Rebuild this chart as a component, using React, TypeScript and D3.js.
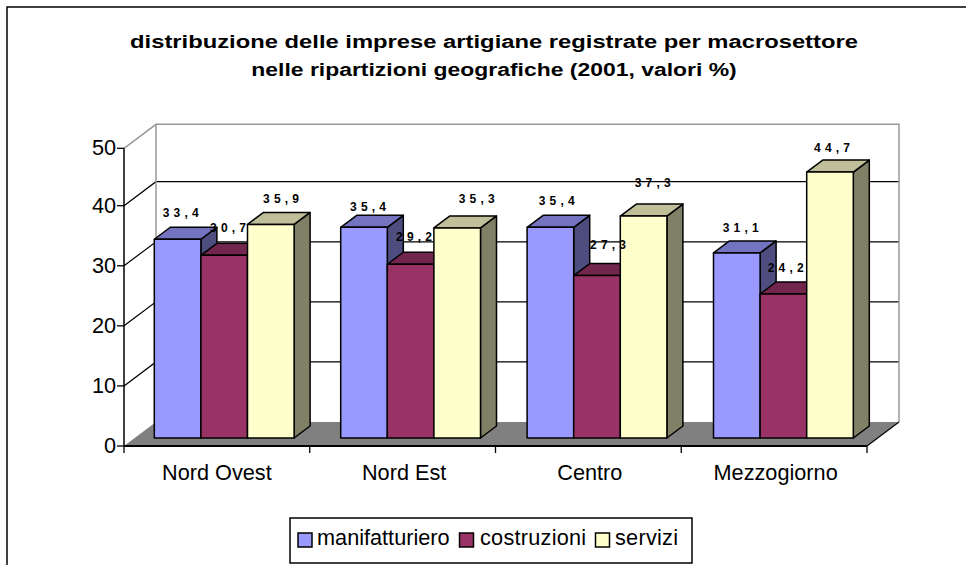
import React from 'react';
import * as d3 from 'd3';

const categories = ['Nord Ovest', 'Nord Est', 'Centro', 'Mezzogiorno'];
const seriesNames = ['manifatturiero', 'costruzioni', 'servizi'];
const manifatturiero = [33.4, 35.4, 35.4, 31.1];
const costruzioni = [30.7, 29.2, 27.3, 24.2];
const servizi = [35.9, 35.3, 37.3, 44.7];
const seriesValues = [manifatturiero, costruzioni, servizi];
const yTicks = [0, 10, 20, 30, 40, 50];
const titleLines = [
  'distribuzione delle imprese artigiane registrate per macrosettore',
  'nelle ripartizioni geografiche (2001, valori %)',
];
const titleStretch = [1.285, 1.24];

const frontColors = ['#9999FF', '#993366', '#FFFFCC'];
const topColors = ['#7373BF', '#73264D', '#BFBF99'];
const sideColors = ['#4D4D80', '#4D1A33', '#808066'];

// Hand-placed data label offsets [dx, dy] per series, per category
const labelNudges = [
  [[5.2, -22.3], [6.1, -16.4], [8.4, -22.4], [6, -21]],
  [[5.9, -23.3], [5.5, -23.3], [13.1, -26.6], [4.4, -22]],
  [[12.3, -21.4], [21.6, -25], [11.2, -29], [4.1, -20]],
];

const W = 966, H = 565;
const depthX = 32, depthY = 24;
const barDX = 16, barDY = 12;
const axisX0 = 124, axisX1 = 867, axisY0 = 446, axisY40 = 205.7, axisY1 = 148.3;
const barBase = 438;
const font = '"Liberation Sans", Arial, sans-serif';

const y = d3.scaleLinear().domain([0, 40, 50]).range([axisY0, axisY40, axisY1]);
const yBar = d3.scaleLinear().domain([0, 50]).range([barBase, barBase - 297.5]);
const xAxisScale = d3.scaleBand<string>().domain(categories).range([axisX0, axisX1]);
const groups = d3.scaleBand<string>().domain(categories).range([131, 876.6]).paddingInner(0.25).paddingOuter(0.125);
const inner = d3.scaleBand<string>().domain(seriesNames).range([0, groups.bandwidth()]);

const pts = (p: number[][]) => p.map((q) => q.join(',')).join(' ');

export default function App() {
  const bw = inner.bandwidth();
  const floorBack = axisY0 - depthY;
  const wallTop = axisY1 - depthY;
  return (
    <svg width={W} height={H} style={{ position: 'fixed', left: 0, top: 0, background: '#fff' }}>
      <path d={`M${W},7 L7,7 L7,${H}`} fill="none" stroke="#000" strokeWidth={1.5} />
      {titleLines.map((t, i) => (
        <text key={t} transform={`translate(494,${47.5 + i * 28.5}) scale(${titleStretch[i]},1)`} textAnchor="middle" fontFamily={font} fontWeight="bold" fontSize={18.5} fill="#000">{t}</text>
      ))}

      {/* walls */}
      {yTicks.slice(1, -1).map((t) => (
        <polyline key={t} points={pts([[axisX0, y(t)], [axisX0 + depthX, y(t) - depthY], [axisX1 + depthX, y(t) - depthY]])} fill="none" stroke="#000" strokeWidth={1.2} />
      ))}
      <polyline points={pts([[axisX0, axisY1], [axisX0 + depthX, wallTop], [axisX1 + depthX, wallTop], [axisX1 + depthX, floorBack]])} fill="none" stroke="#999" strokeWidth={1.5} />
      <line x1={axisX0 + depthX} x2={axisX0 + depthX} y1={wallTop} y2={floorBack} stroke="#999" strokeWidth={1.5} />

      {/* floor */}
      <polygon points={pts([[axisX0, axisY0], [axisX0 + depthX, floorBack], [axisX1 + depthX, floorBack], [axisX1, axisY0]])} fill="#808080" />
      <line x1={axisX1} y1={axisY0} x2={axisX1 + depthX} y2={floorBack} stroke="#000" strokeWidth={1.2} />

      {/* bars */}
      {categories.map((c, ci) => (
        <g key={c}>
          {seriesNames.map((s, si) => {
            const v = seriesValues[si][ci];
            const x0 = (groups(c) as number) + (inner(s) as number);
            const x1 = x0 + bw;
            const yb = yBar(0);
            const yt = yBar(v);
            return (
              <g key={s} stroke="#000" strokeWidth={1.5} strokeLinejoin="round">
                <polygon points={pts([[x1, yb], [x1 + barDX, yb - barDY], [x1 + barDX, yt - barDY], [x1, yt]])} fill={sideColors[si]} />
                <polygon points={pts([[x0, yt], [x0 + barDX, yt - barDY], [x1 + barDX, yt - barDY], [x1, yt]])} fill={topColors[si]} />
                <rect x={x0} y={yt} width={bw} height={yb - yt} fill={frontColors[si]} />
              </g>
            );
          })}
        </g>
      ))}

      {/* data labels */}
      {categories.map((c, ci) =>
        seriesNames.map((s, si) => {
          const v = seriesValues[si][ci];
          const x0 = (groups(c) as number) + (inner(s) as number);
          const [dx, dy] = labelNudges[si][ci];
          return (
            <text key={c + s} x={x0 + bw / 2 + dx} y={yBar(v) + dy} textAnchor="middle" fontFamily={font} fontWeight="bold" fontSize={12} letterSpacing={4.2} fill="#000">
              {v.toFixed(1).replace('.', ',')}
            </text>
          );
        })
      )}

      {/* axes */}
      <line x1={axisX0} x2={axisX0} y1={axisY1} y2={axisY0} stroke="#000" strokeWidth={1.5} />
      <line x1={axisX0} x2={axisX1} y1={axisY0} y2={axisY0} stroke="#000" strokeWidth={2} />
      {yTicks.map((t) => (
        <g key={t}>
          <line x1={axisX0 - 7} x2={axisX0} y1={y(t)} y2={y(t)} stroke="#000" strokeWidth={1.3} />
          <text x={axisX0 - 8} y={y(t) + 7} textAnchor="end" fontFamily={font} fontSize={21.7} fill="#000">{t}</text>
        </g>
      ))}
      {[...categories.map((c) => xAxisScale(c) as number), axisX1].map((tx) => (
        <line key={tx} x1={tx} x2={tx} y1={axisY0} y2={axisY0 + 7} stroke="#000" strokeWidth={1.3} />
      ))}
      {categories.map((c, i) => (
        <text key={c} x={(xAxisScale(c) as number) + xAxisScale.bandwidth() / 2 + (i === 0 ? 0 : 1.5)} y={480} textAnchor="middle" fontFamily={font} fontSize={21.7} fill="#000">{c}</text>
      ))}

      {/* legend */}
      <rect x={290} y={518} width={402} height={45} fill="#fff" stroke="#000" strokeWidth={1.5} />
      {seriesNames.map((s, i) => {
        const lx = [298, 459.5, 595.5][i];
        const tx = [317, 480, 615][i];
        return (
          <g key={s}>
            <rect x={lx} y={533} width={14} height={14} fill={frontColors[i]} stroke="#000" strokeWidth={1.5} />
            <text x={tx} y={545} fontFamily={font} fontSize={21.7} letterSpacing={i === 0 ? 0 : 0.25} fill="#000">{s}</text>
          </g>
        );
      })}
    </svg>
  );
}
